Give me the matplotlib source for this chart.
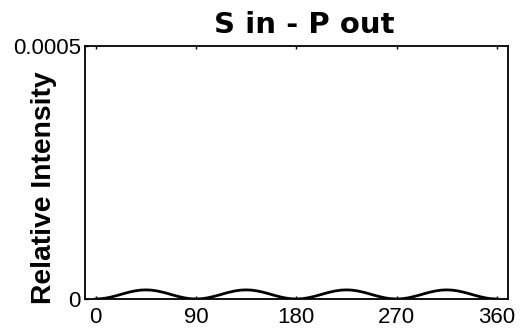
"""
S in - P out: relative intensity vs. rotation angle.
"""

import matplotlib
matplotlib.use("Agg")
import matplotlib.pyplot as plt
from matplotlib import font_manager

# Angle (deg) and relative intensity (units of 1e-6)
angle_deg = [0, 5, 10, 15, 20, 25, 30, 35, 40, 45, 50, 55, 60, 65, 70, 75, 80, 85,
             90, 95, 100, 105, 110, 115, 120, 125, 130, 135, 140, 145, 150, 155, 160, 165, 170, 175,
             180, 185, 190, 195, 200, 205, 210, 215, 220, 225, 230, 235, 240, 245, 250, 255, 260, 265,
             270, 275, 280, 285, 290, 295, 300, 305, 310, 315, 320, 325, 330, 335, 340, 345, 350, 355,
             360]
intensity_e6 = [0.0, 0.5, 2.1, 4.5, 7.4, 10.6, 13.5, 15.9, 17.5, 18.0, 17.5, 15.9, 13.5, 10.6, 7.4, 4.5, 2.1, 0.5,
                0.0, 0.5, 2.1, 4.5, 7.4, 10.6, 13.5, 15.9, 17.5, 18.0, 17.5, 15.9, 13.5, 10.6, 7.4, 4.5, 2.1, 0.5,
                0.0, 0.5, 2.1, 4.5, 7.4, 10.6, 13.5, 15.9, 17.5, 18.0, 17.5, 15.9, 13.5, 10.6, 7.4, 4.5, 2.1, 0.5,
                0.0, 0.5, 2.1, 4.5, 7.4, 10.6, 13.5, 15.9, 17.5, 18.0, 17.5, 15.9, 13.5, 10.6, 7.4, 4.5, 2.1, 0.5,
                0.0]

x_ticks = [0, 90, 180, 270, 360]
x_tick_labels = ["0", "90", "180", "270", "360"]
y_ticks = [0, 0.0005]
y_tick_labels = ["0", "0.0005"]

TITLE = "S in - P out"
YLABEL = "Relative Intensity"

# narrow bold font for the y label if it is there
installed = {f.name for f in font_manager.fontManager.ttflist}
if "Liberation Sans Narrow" in installed:
    ylabel_font, ylabel_size = "Liberation Sans Narrow", 24.5
else:
    ylabel_font, ylabel_size = "Liberation Sans", 20.3

fig = plt.figure(figsize=(5.26, 3.31), dpi=100)
ax = fig.add_axes([0.1616, 0.0967, 0.8042, 0.7644])

ax.plot(angle_deg, [v * 1e-6 for v in intensity_e6], color="black", lw=2.0)

ax.set_xlim(-9.6, 370)
ax.set_ylim(0, 0.0005)
ax.set_xticks(x_ticks)
ax.set_xticklabels(x_tick_labels, family="Liberation Sans", fontsize=16)
ax.set_yticks(y_ticks)
ax.set_yticklabels(y_tick_labels, family="Liberation Sans", fontsize=16)

ax.tick_params(axis="both", direction="in", length=2.5, width=1.0,
               top=True, right=False, colors="black")
ax.tick_params(axis="x", pad=6)
ax.tick_params(axis="y", pad=3)
for s in ax.spines.values():
    s.set_linewidth(1.3)

ax.set_title(TITLE, family="DejaVu Sans", fontweight="bold", fontsize=21,
             pad=9.4, x=0.518)
ax.set_ylabel(YLABEL, family=ylabel_font, fontweight="bold", fontsize=ylabel_size)
ax.yaxis.set_label_coords(-0.066, 0.439)

fig.savefig("out.png", dpi=100)
